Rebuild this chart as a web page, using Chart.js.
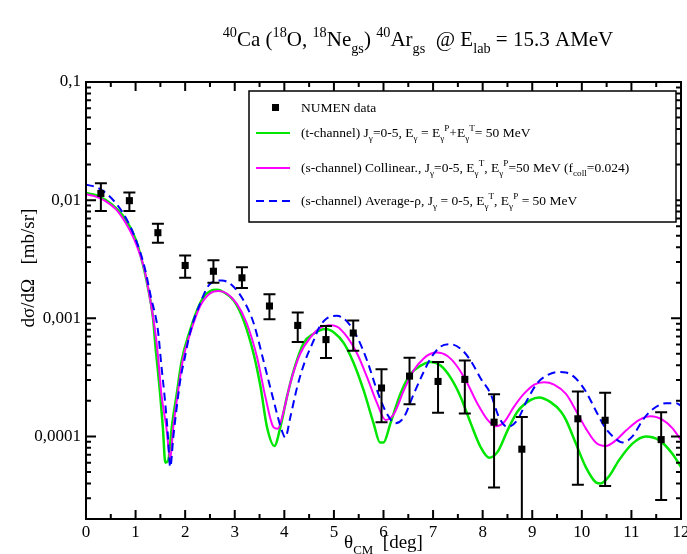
<!DOCTYPE html>
<html>
<head>
<meta charset="utf-8">
<script src="https://cdn.jsdelivr.net/npm/chart.js@4.4.1/dist/chart.umd.min.js"></script>
<style>
  body { margin: 0; background: #fff; }
  canvas { display: block; }
</style>
</head>
<body>
<canvas id="chart" width="687" height="554"></canvas>
<script>
// NUMEN data points (theta in deg, cross section in mb/sr)
const thetaData = [0.30, 0.875, 1.45, 2.0, 2.57, 3.145, 3.70, 4.27, 4.84, 5.39, 5.96, 6.525, 7.10, 7.64, 8.23, 8.79, 9.92, 10.47, 11.60];
const sigmaData = [0.0114, 0.0099, 0.0053, 0.0028, 0.0025, 0.0022, 0.00127, 0.00087, 0.00066, 0.00075, 0.000257, 0.000324, 0.000292, 0.000304, 0.000132, 0.000078, 0.000141, 0.000137, 0.000094];
const sigmaErrHigh = [0.0139, 0.0116, 0.0063, 0.0034, 0.0031, 0.0027, 0.0016, 0.00112, 0.00086, 0.00096, 0.00037, 0.000464, 0.000427, 0.00044, 0.000227, 0.000146, 0.00024, 0.000234, 0.00016];
const sigmaErrLow = [0.0081, 0.0081, 0.00435, 0.0022, 0.0020, 0.0018, 0.00098, 0.00063, 0.00046, 0.00053, 0.000132, 0.000187, 0.000159, 0.000156, 0.000037, 0.000001, 0.000039, 0.000038, 0.000029];

// t-channel (green)
const thetaT = [0, 0.2, 0.4, 0.61, 0.81, 1.01, 1.145, 1.245, 1.35, 1.41, 1.45, 1.495, 1.55, 1.60, 1.66, 1.73, 1.83, 1.93, 2.10, 2.24, 2.37, 2.505, 2.64, 2.77, 2.98, 3.18, 3.38, 3.52, 3.65, 3.80, 3.92, 4.05, 4.19, 4.39, 4.59, 4.83, 5.0, 5.2, 5.40, 5.60, 5.80, 5.93, 6.0, 6.14, 6.34, 6.55, 6.75, 6.95, 7.15, 7.35, 7.56, 7.76, 7.96, 8.13, 8.30, 8.50, 8.70, 8.97, 9.14, 9.37, 9.58, 9.68, 9.88, 10.08, 10.28, 10.38, 10.55, 10.75, 11.02, 11.29, 11.56, 11.83, 12.0];
const sigmaT = [0.0115, 0.0110, 0.0100, 0.00851, 0.00676, 0.00457, 0.00288, 0.00186, 0.00102, 0.000525, 0.000363, 0.000229, 0.000120, 0.000060, 0.000063, 0.000120, 0.000229, 0.000437, 0.000794, 0.00117, 0.00151, 0.0017, 0.00174, 0.00167, 0.00141, 0.000955, 0.000501, 0.000263, 0.000120, 0.000083, 0.000120, 0.000214, 0.000363, 0.000617, 0.000741, 0.000813, 0.000759, 0.000617, 0.000417, 0.000245, 0.000129, 0.000089, 0.000089, 0.000129, 0.000229, 0.000339, 0.000398, 0.000427, 0.000398, 0.000316, 0.000214, 0.000129, 0.000081, 0.000066, 0.000074, 0.000112, 0.000162, 0.000204, 0.000214, 0.000195, 0.000162, 0.000138, 0.000087, 0.000055, 0.000041, 0.000040, 0.000046, 0.000063, 0.000087, 0.000100, 0.000093, 0.000071, 0.000055];

// s-channel collinear (magenta)
const thetaColl = [0, 0.2, 0.4, 0.61, 0.81, 1.01, 1.18, 1.31, 1.41, 1.47, 1.52, 1.62, 1.70, 1.76, 1.85, 1.95, 2.10, 2.30, 2.50, 2.67, 2.84, 3.04, 3.24, 3.45, 3.62, 3.78, 3.865, 3.99, 4.12, 4.32, 4.53, 4.73, 4.90, 5.06, 5.27, 5.47, 5.67, 5.87, 6.04, 6.21, 6.41, 6.61, 6.81, 6.95, 7.08, 7.29, 7.49, 7.69, 7.89, 8.10, 8.26, 8.43, 8.63, 8.83, 9.04, 9.24, 9.44, 9.68, 9.88, 10.08, 10.28, 10.48, 10.69, 10.89, 11.16, 11.39, 11.63, 11.83, 12.0];
const sigmaColl = [0.0112, 0.0107, 0.00977, 0.00832, 0.00631, 0.00427, 0.00257, 0.00132, 0.000692, 0.000398, 0.000229, 0.000120, 0.000065, 0.000120, 0.000229, 0.000437, 0.000741, 0.00126, 0.00162, 0.0017, 0.00162, 0.00133, 0.000912, 0.000468, 0.000214, 0.000120, 0.000116, 0.000166, 0.000282, 0.000501, 0.000692, 0.000832, 0.000871, 0.000851, 0.000692, 0.000501, 0.000316, 0.000191, 0.000138, 0.000155, 0.000245, 0.000363, 0.000457, 0.000501, 0.000513, 0.000479, 0.000389, 0.000282, 0.000191, 0.000138, 0.000122, 0.000132, 0.000178, 0.000229, 0.000275, 0.000288, 0.000275, 0.000229, 0.000166, 0.000117, 0.000089, 0.000083, 0.000093, 0.000112, 0.000138, 0.000148, 0.000138, 0.000117, 0.000093];

// s-channel average-rho (blue dashed)
const thetaAvg = [0, 0.2, 0.4, 0.61, 0.81, 1.01, 1.18, 1.31, 1.45, 1.52, 1.58, 1.64, 1.70, 1.76, 1.84, 1.91, 1.98, 2.10, 2.30, 2.50, 2.74, 2.94, 3.18, 3.38, 3.58, 3.78, 3.95, 4.02, 4.12, 4.26, 4.42, 4.59, 4.70, 4.86, 5.06, 5.27, 5.47, 5.67, 5.87, 6.07, 6.24, 6.41, 6.61, 6.81, 6.95, 7.15, 7.35, 7.56, 7.76, 7.96, 8.16, 8.33, 8.50, 8.70, 8.90, 9.10, 9.31, 9.51, 9.68, 9.88, 10.08, 10.28, 10.48, 10.69, 10.82, 11.02, 11.23, 11.43, 11.70, 11.90, 12.0];
const sigmaAvg = [0.0135, 0.0129, 0.0115, 0.00933, 0.0070, 0.00457, 0.00272, 0.00151, 0.000794, 0.000398, 0.000229, 0.000120, 0.000055, 0.000098, 0.000191, 0.000316, 0.000437, 0.000759, 0.00133, 0.00195, 0.00209, 0.00191, 0.00141, 0.000912, 0.000437, 0.000204, 0.000112, 0.000098, 0.000145, 0.000263, 0.000437, 0.000646, 0.000832, 0.0010, 0.00105, 0.000933, 0.000692, 0.000437, 0.000245, 0.000155, 0.000129, 0.000145, 0.000229, 0.000351, 0.000457, 0.000575, 0.000603, 0.00055, 0.000437, 0.000309, 0.000229, 0.000145, 0.000120, 0.000138, 0.000204, 0.000282, 0.000331, 0.000351, 0.000347, 0.000309, 0.00024, 0.000166, 0.000117, 0.000095, 0.000089, 0.000100, 0.000138, 0.000170, 0.000191, 0.000191, 0.000182];

const xTickValues = [0, 1, 2, 3, 4, 5, 6, 7, 8, 9, 10, 11, 12];
const yTickLabels = { "-1": "0,1", "-2": "0,01", "-3": "0,001", "-4": "0,0001" };

const SERIF = "'Liberation Serif', 'DejaVu Serif', serif";
const GREEN = "#00e600";
const MAGENTA = "#ff00ff";
const BLUE = "#0000ff";

const pts = (xs, ys) => xs.map((x, i) => ({ x: x, y: ys[i] }));

// text with sub/superscript parts: [text, "" | "sub" | "sup"]
function richWidth(ctx, parts, size) {
  let w = 0;
  parts.forEach(([t, m]) => {
    ctx.font = (m ? size * 0.68 : size) + "px " + SERIF;
    w += ctx.measureText(t).width;
  });
  return w;
}
function drawRich(ctx, parts, x, y, size, align) {
  let cx = x;
  if (align === "center") cx = x - richWidth(ctx, parts, size) / 2;
  ctx.textAlign = "left";
  ctx.textBaseline = "alphabetic";
  parts.forEach(([t, m]) => {
    const s = m ? size * 0.68 : size;
    ctx.font = s + "px " + SERIF;
    let dy = 0;
    if (m === "sub") dy = size * 0.32;
    if (m === "sup") dy = -size * 0.42;
    ctx.fillText(t, cx, y + dy);
    cx += ctx.measureText(t).width;
  });
}

const titleParts = [["40", "sup"], ["Ca (", ""], ["18", "sup"], ["O, ", ""], ["18", "sup"], ["Ne", ""], ["gs", "sub"], [") ", ""], ["40", "sup"], ["Ar", ""], ["gs", "sub"], ["  @ E", ""], ["lab", "sub"], [" = 15.3 AMeV", ""]];

const legendRows = [
  { kind: "point", parts: [["NUMEN data", ""]] },
  { kind: "line", color: GREEN, dash: [], parts: [["(t-channel) J", ""], ["γ", "sub"], ["=0-5, E", ""], ["γ", "sub"], [" = E", ""], ["γ", "sub"], ["P", "sup"], ["+E", ""], ["γ", "sub"], ["T", "sup"], ["= 50 MeV", ""]] },
  { kind: "line", color: MAGENTA, dash: [], parts: [["(s-channel) Collinear., J", ""], ["γ", "sub"], ["=0-5, E", ""], ["γ", "sub"], ["T", "sup"], [", E", ""], ["γ", "sub"], ["P", "sup"], ["=50 MeV (f", ""], ["coll", "sub"], ["=0.024)", ""]] },
  { kind: "line", color: BLUE, dash: [8, 5], parts: [["(s-channel) Average-ρ, J", ""], ["γ", "sub"], [" = 0-5, E", ""], ["γ", "sub"], ["T", "sup"], [", E", ""], ["γ", "sub"], ["P", "sup"], [" = 50 MeV", ""]] }
];

const decorPlugin = {
  id: "decor",
  afterDatasetsDraw(chart) {
    const { ctx, chartArea: a, scales: { x, y } } = chart;
    ctx.save();
    ctx.beginPath();
    ctx.rect(a.left, a.top, a.right - a.left, a.bottom - a.top);
    ctx.clip();
    ctx.strokeStyle = "#000";
    ctx.lineWidth = 2;
    thetaData.forEach((t, i) => {
      const px = x.getPixelForValue(t);
      const hi = y.getPixelForValue(sigmaErrHigh[i]);
      const lo = y.getPixelForValue(sigmaErrLow[i]);
      ctx.beginPath();
      ctx.moveTo(px, hi); ctx.lineTo(px, lo);
      ctx.moveTo(px - 6, hi); ctx.lineTo(px + 6, hi);
      ctx.moveTo(px - 6, lo); ctx.lineTo(px + 6, lo);
      ctx.stroke();
    });
    ctx.restore();
  },
  afterDraw(chart) {
    const { ctx, chartArea: a, scales: { x, y } } = chart;
    ctx.save();
    ctx.strokeStyle = "#000";
    ctx.fillStyle = "#000";

    // inward ticks on all four sides
    ctx.lineWidth = 2;
    ctx.beginPath();
    for (let v = 0; v <= 12.001; v += 0.5) {
      const px = x.getPixelForValue(v);
      const len = Math.abs(v - Math.round(v)) < 1e-6 ? 9 : 5;
      ctx.moveTo(px, a.bottom); ctx.lineTo(px, a.bottom - len);
      ctx.moveTo(px, a.top); ctx.lineTo(px, a.top + len);
    }
    for (let e = -5; e <= -1; e++) {
      for (let m = 1; m <= 9; m++) {
        const v = m * Math.pow(10, e);
        if (v < y.min * 0.999 || v > y.max * 1.001) continue;
        const py = y.getPixelForValue(v);
        const len = m === 1 ? 10 : 5;
        ctx.moveTo(a.left, py); ctx.lineTo(a.left + len, py);
        ctx.moveTo(a.right, py); ctx.lineTo(a.right - len, py);
      }
    }
    ctx.stroke();

    // frame
    ctx.strokeRect(a.left, a.top, a.right - a.left, a.bottom - a.top);

    // title
    drawRich(ctx, titleParts, 418, 46, 21, "center");

    // axis titles
    drawRich(ctx, [["θ", ""], ["CM", "sub"], ["  [deg]", ""]], (a.left + a.right) / 2, 548, 19, "center");
    ctx.save();
    ctx.translate(34, 268);
    ctx.rotate(-Math.PI / 2);
    drawRich(ctx, [["dσ/dΩ   [mb/sr]", ""]], 0, 0, 19, "center");
    ctx.restore();

    // legend
    const lx = 249, ly = 91, lw = 427, lh = 131;
    ctx.fillStyle = "#fff";
    ctx.fillRect(lx, ly, lw, lh);
    ctx.lineWidth = 1.5;
    ctx.strokeStyle = "#000";
    ctx.strokeRect(lx, ly, lw, lh);
    const rowY = [108, 133, 168, 201];
    legendRows.forEach((r, i) => {
      const ry = rowY[i];
      if (r.kind === "point") {
        ctx.fillStyle = "#000";
        ctx.fillRect(272, ry - 4, 7, 7);
      } else {
        ctx.strokeStyle = r.color;
        ctx.lineWidth = 2;
        ctx.setLineDash(r.dash);
        ctx.beginPath();
        ctx.moveTo(256, ry); ctx.lineTo(290, ry);
        ctx.stroke();
        ctx.setLineDash([]);
      }
      ctx.fillStyle = "#000";
      drawRich(ctx, r.parts, 301, ry + 4, 13.5, "left");
    });
    ctx.restore();
  }
};

new Chart(document.getElementById("chart"), {
  type: "scatter",
  data: {
    datasets: [
      {
        label: "NUMEN data",
        data: pts(thetaData, sigmaData),
        pointStyle: "rect",
        pointRadius: 5,
        backgroundColor: "#000",
        borderColor: "#000",
        borderWidth: 0,
        showLine: false
      },
      {
        label: "(s-channel) Average-ρ",
        data: pts(thetaAvg, sigmaAvg),
        showLine: true,
        borderColor: BLUE,
        borderWidth: 2,
        borderDash: [8, 5],
        pointRadius: 0,
        cubicInterpolationMode: "monotone"
      },
      {
        label: "(s-channel) Collinear",
        data: pts(thetaColl, sigmaColl),
        showLine: true,
        borderColor: MAGENTA,
        borderWidth: 2,
        pointRadius: 0,
        cubicInterpolationMode: "monotone"
      },
      {
        label: "(t-channel)",
        data: pts(thetaT, sigmaT),
        showLine: true,
        borderColor: GREEN,
        borderWidth: 2.5,
        pointRadius: 0,
        cubicInterpolationMode: "monotone"
      }
    ]
  },
  options: {
    responsive: false,
    animation: false,
    devicePixelRatio: 1,
    layout: { padding: { top: 82, right: 6, left: 0, bottom: 0 } },
    plugins: { legend: { display: false }, tooltip: { enabled: false } },
    scales: {
      x: {
        type: "linear",
        min: 0,
        max: 12,
        afterFit: s => { s.height = 35; s.paddingLeft = 0; s.paddingRight = 0; },
        afterBuildTicks: s => { s.ticks = xTickValues.map(v => ({ value: v })); },
        grid: { display: false, drawTicks: false },
        border: { display: false },
        ticks: { color: "#000", padding: 3, font: { family: SERIF, size: 17 }, maxRotation: 0 }
      },
      y: {
        type: "logarithmic",
        min: 0.00002,
        max: 0.1,
        afterFit: s => { s.width = 86; },
        grid: { display: false, drawTicks: false },
        border: { display: false },
        ticks: {
          color: "#000",
          padding: 5,
          autoSkip: false,
          font: { family: SERIF, size: 17 },
          callback: v => {
            const e = Math.log10(v);
            const r = Math.round(e);
            return Math.abs(e - r) < 1e-6 && yTickLabels[r] ? yTickLabels[r] : "";
          }
        }
      }
    }
  },
  plugins: [decorPlugin]
});
</script>
</body>
</html>
